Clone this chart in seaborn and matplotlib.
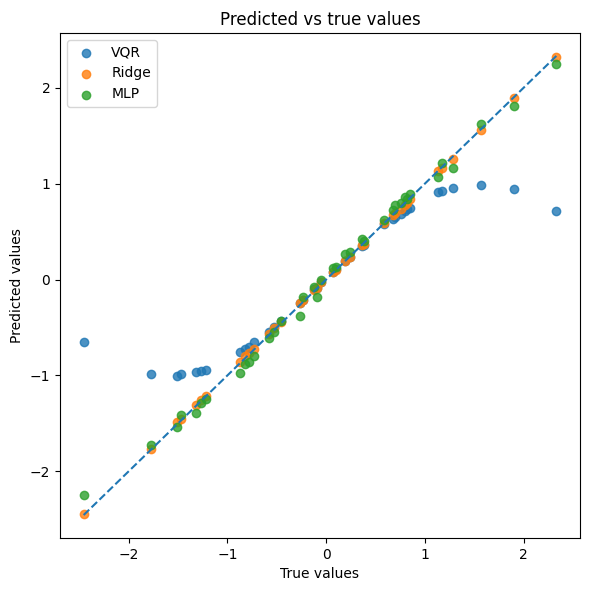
import pandas as pd
import numpy as np
import matplotlib
matplotlib.use("Agg")
import matplotlib.pyplot as plt
import seaborn as sns

# values
true_vals = [-2.455, -1.77, -1.51, -1.465, -1.313, -1.266, -1.22,
             -0.87, -0.82, -0.78, -0.73, -0.58, -0.53, -0.46,
             -0.27, -0.235, -0.12, -0.095, -0.05, 0.07, 0.10, 0.19, 0.24,
             0.36, 0.38, 0.59, 0.68, 0.70, 0.76, 0.80, 0.82, 0.85,
             1.135, 1.17, 1.28, 1.57, 1.90, 2.33]
vqr_pred = [-0.65, -0.985, -1.006, -0.99, -0.96, -0.95, -0.94,
            -0.76, -0.72, -0.70, -0.655, -0.55, -0.50, -0.43,
            -0.25, -0.21, -0.10, -0.09, -0.03, 0.08, 0.11, 0.19, 0.23,
            0.35, 0.36, 0.58, 0.63, 0.65, 0.68, 0.71, 0.73, 0.75,
            0.91, 0.92, 0.95, 0.99, 0.94, 0.71]
ridge_pred = [-2.44, -1.77, -1.49, -1.455, -1.305, -1.26, -1.215,
              -0.86, -0.80, -0.77, -0.72, -0.57, -0.51, -0.44,
              -0.25, -0.21, -0.11, -0.09, -0.03, 0.08, 0.10, 0.19, 0.23,
              0.36, 0.37, 0.59, 0.67, 0.69, 0.74, 0.78, 0.80, 0.84,
              1.13, 1.16, 1.26, 1.56, 1.89, 2.315]
mlp_pred = [-2.245, -1.72, -1.535, -1.41, -1.39, -1.29, -1.25,
            -0.97, -0.88, -0.86, -0.80, -0.61, -0.55, -0.43,
            -0.376, -0.18, -0.08, -0.18, -0.01, 0.12, 0.13, 0.27, 0.29,
            0.42, 0.40, 0.62, 0.72, 0.78, 0.80, 0.86, 0.84, 0.89,
            1.07, 1.21, 1.16, 1.62, 1.81, 2.25]

models = {"VQR": vqr_pred, "Ridge": ridge_pred, "MLP": mlp_pred}

fig, ax = plt.subplots(figsize=(5.9, 5.9), dpi=100)
for name, pred in models.items():
    sns.scatterplot(x=true_vals, y=pred, label=name, alpha=0.8,
                    s=36, linewidth=1, edgecolor="face", ax=ax)

lo, hi = min(true_vals), max(true_vals)
ax.plot([lo, hi], [lo, hi], "--", color="C0")

ax.set_title("Predicted vs true values")
ax.set_xlabel("True values")
ax.set_ylabel("Predicted values")
ax.legend(loc="upper left")
fig.subplots_adjust(left=60 / 590, right=580 / 590, top=1 - 33 / 590,
                    bottom=1 - 538 / 590)
fig.savefig("out.png")
